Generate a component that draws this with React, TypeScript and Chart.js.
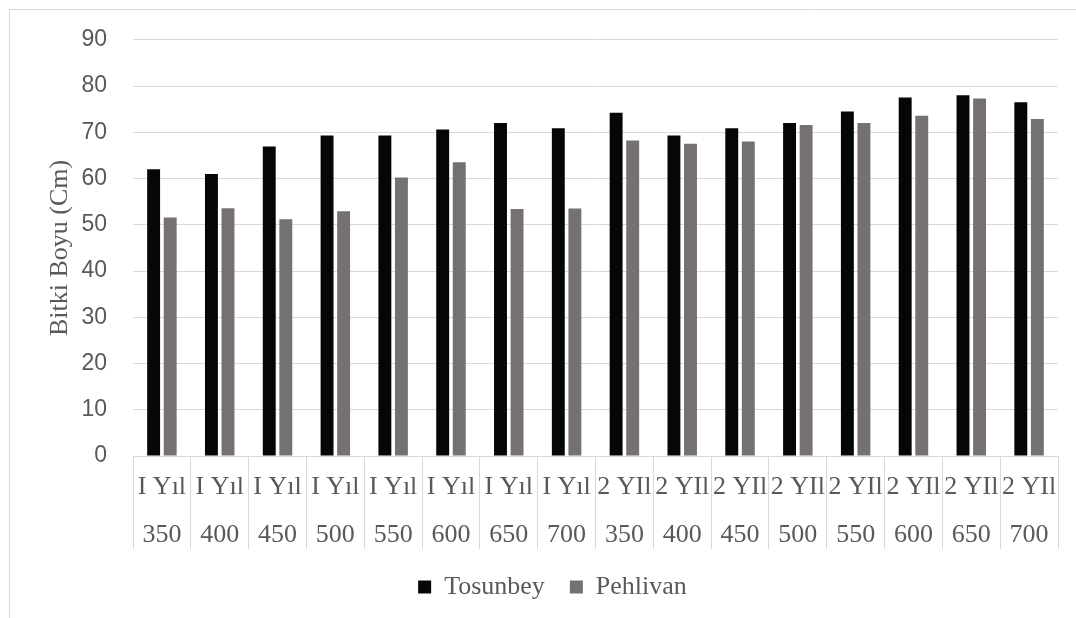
import React, { useEffect, useRef } from "react";
import { Chart, registerables } from "chart.js";

Chart.register(...registerables);

const yearLabels = [
  "I Yıl", "I Yıl", "I Yıl", "I Yıl", "I Yıl", "I Yıl", "I Yıl", "I Yıl",
  "2 YIl", "2 YIl", "2 YIl", "2 YIl", "2 YIl", "2 YIl", "2 YIl", "2 YIl",
];
const doseLabels = [
  "350", "400", "450", "500", "550", "600", "650", "700",
  "350", "400", "450", "500", "550", "600", "650", "700",
];
const tosunbey = [62.0, 61.0, 66.9, 69.3, 69.3, 70.6, 72.0, 70.9, 74.2, 69.3, 70.9, 72.0, 74.5, 77.5, 78.0, 76.5];
const pehlivan = [51.6, 53.6, 51.2, 52.9, 60.2, 63.5, 53.4, 53.5, 68.2, 67.5, 68.0, 71.6, 72.0, 73.6, 77.3, 72.9];
const seriesNames = ["Tosunbey", "Pehlivan"];
const yTitle = "Bitki Boyu (Cm)";
const yMin = 0;
const yMax = 90;
const yStep = 10;

const GRID = "#d9d9d9";
const TEXT = "#595959";
const SERIF = "'Liberation Serif', 'Times New Roman', serif";
const SANS = "'Liberation Sans', Arial, sans-serif";

const framePlugin = {
  id: "frame",
  beforeDraw(chart: any) {
    const ctx = chart.ctx;
    ctx.save();
    ctx.strokeStyle = GRID;
    ctx.lineWidth = 1;
    ctx.beginPath();
    ctx.moveTo(9.5, chart.height);
    ctx.lineTo(9.5, 9.5);
    ctx.lineTo(chart.width, 9.5);
    ctx.stroke();
    ctx.restore();
  },
};

export default function App() {
  const ref = useRef<HTMLCanvasElement>(null);

  useEffect(() => {
    if (!ref.current) return;
    const labels = yearLabels.map((y, i) => [y, doseLabels[i]]);
    const chart = new Chart(ref.current, {
      type: "bar",
      data: {
        labels,
        datasets: [
          {
            label: seriesNames[0],
            data: tosunbey,
            backgroundColor: "#050606",
            borderWidth: 0,
            categoryPercentage: 0.573,
            barPercentage: 0.78,
          },
          {
            label: seriesNames[1],
            data: pehlivan,
            backgroundColor: "#767171",
            borderWidth: 0,
            categoryPercentage: 0.573,
            barPercentage: 0.78,
          },
        ],
      },
      options: {
        responsive: false,
        animation: false,
        devicePixelRatio: 1,
        layout: { padding: { top: 39, bottom: 8, left: 47, right: 18 } },
        plugins: {
          tooltip: { enabled: false },
          legend: {
            position: "bottom",
            labels: {
              boxWidth: 13,
              boxHeight: 13,
              padding: 25,
              color: TEXT,
              font: { family: SERIF, size: 26 },
            },
          },
        },
        scales: {
          x: {
            grid: {
              display: true,
              drawOnChartArea: false,
              drawTicks: true,
              tickLength: 93,
              offset: true,
              color: GRID,
              lineWidth: 1,
            },
            border: { display: true, color: GRID, width: 1 },
            ticks: {
              autoSkip: false,
              maxRotation: 0,
              minRotation: 0,
              padding: -86,
              color: TEXT,
              font: { family: SERIF, size: 26, lineHeight: 1.85 },
            },
            afterFit(scale: any) {
              scale.height = 93;
            },
          },
          y: {
            min: yMin,
            max: yMax,
            grid: { color: GRID, lineWidth: 1, drawTicks: false },
            border: { display: false },
            ticks: {
              stepSize: yStep,
              padding: 26,
              color: TEXT,
              font: { family: SANS, size: 23 },
            },
            title: {
              display: true,
              text: yTitle,
              color: TEXT,
              padding: { top: 0, bottom: 0 },
              font: { family: SERIF, size: 26, lineHeight: 1 },
            },
            afterFit(scale: any) {
              scale.width = 86;
            },
          },
        },
      },
      plugins: [framePlugin],
    });
    return () => chart.destroy();
  }, []);

  return (
    <div style={{ position: "fixed", left: 0, top: 0, width: 1076, height: 618, background: "#fff" }}>
      <canvas ref={ref} width={1076} height={618} style={{ display: "block" }} />
    </div>
  );
}
